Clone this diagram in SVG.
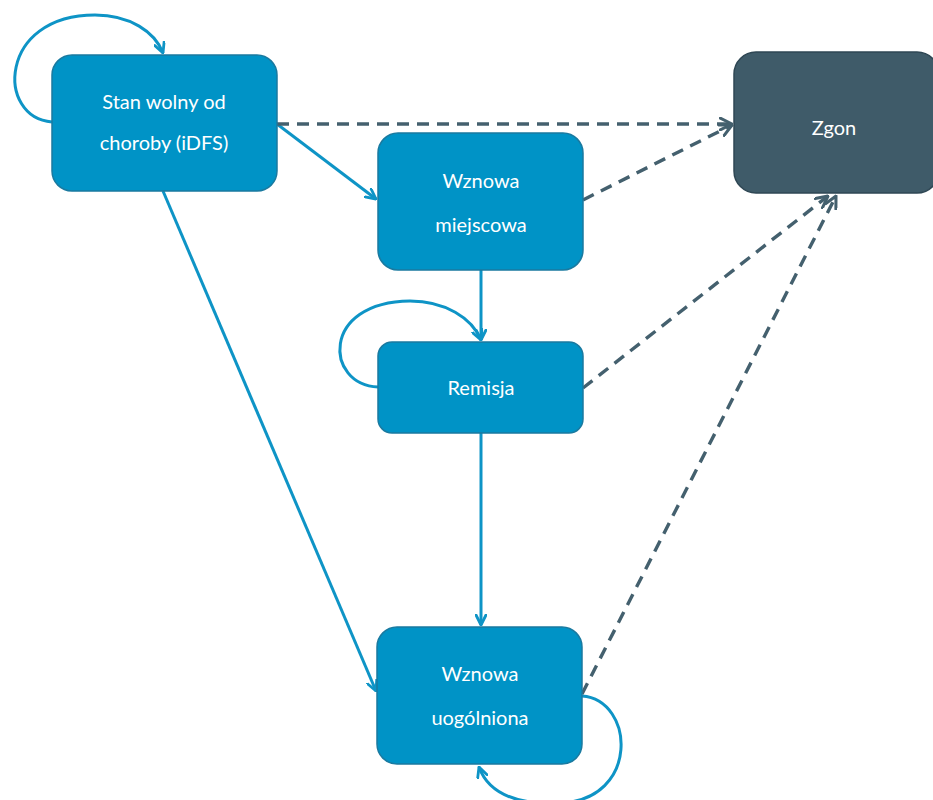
<svg xmlns="http://www.w3.org/2000/svg" width="933" height="800" viewBox="0 0 933 800">
  <defs>
    <marker id="arrBlue" viewBox="0 0 12 12" refX="11" refY="6" markerWidth="12" markerHeight="12" markerUnits="userSpaceOnUse" orient="auto">
      <path d="M1,1 L11,6 L1,11" fill="none" stroke="#0e94c6" stroke-width="2.8" stroke-linecap="round" stroke-linejoin="round"/>
    </marker>
    <marker id="arrGrey" viewBox="0 0 12 12" refX="11" refY="6" markerWidth="14" markerHeight="14" markerUnits="userSpaceOnUse" orient="auto">
      <path d="M1,1 L11,6 L1,11" fill="none" stroke="#44606e" stroke-width="2.6" stroke-linecap="round" stroke-linejoin="round"/>
    </marker>
    <style>
      .state { fill: #0093c6; stroke: #1a7aa0; stroke-width: 1.5; }
      .final { fill: #3f5b69; stroke: #2f4754; stroke-width: 1.5; }
      .label { font-family: Lato, "Open Sans", "Liberation Sans", sans-serif; font-size: 20px; fill: #ffffff; text-anchor: middle; dominant-baseline: central; }
      .solid { fill: none; stroke: #0e94c6; stroke-width: 3; marker-end: url(#arrBlue); }
      .dash { fill: none; stroke: #44606e; stroke-width: 3.4; stroke-dasharray: 12 8; marker-end: url(#arrGrey); }
    </style>
  </defs>

  <g id="connectors">
    <!-- self-loops -->
    <path class="solid" d="M52,122 C-4,118 -2,15 95,15 C130,15 155,32 163,53"/>
    <path class="solid" d="M378,387 C325,385 320,302 410,301 C445,301 472,318 481,340"/>
    <path class="solid" d="M582,696 C635,700 640,800 560,803 C515,805 488,792 479,767"/>
    <!-- solid transitions -->
    <path class="solid" d="M277,124 L376,199"/>
    <path class="solid" d="M163,191 L376,691"/>
    <path class="solid" d="M481,270 L481,340"/>
    <path class="solid" d="M481,433 L481,625"/>
    <!-- transitions to death -->
    <path class="dash" d="M277,124 L732,124"/>
    <path class="dash" d="M583,200 L732,125"/>
    <path class="dash" d="M583,388 L828,196"/>
    <path class="dash" d="M582,694 L836,196"/>
  </g>

  <g id="node-idfs">
    <rect class="state" x="52" y="55" width="225" height="136" rx="20"/>
    <text class="label" x="164" y="101">Stan wolny od</text>
    <text class="label" x="164" y="142">choroby (iDFS)</text>
  </g>

  <g id="node-local">
    <rect class="state" x="378" y="133" width="205" height="137" rx="20"/>
    <text class="label" x="481" y="180">Wznowa</text>
    <text class="label" x="481" y="224">miejscowa</text>
  </g>

  <g id="node-remission">
    <rect class="state" x="378" y="342" width="205" height="91" rx="14"/>
    <text class="label" x="481" y="387">Remisja</text>
  </g>

  <g id="node-general">
    <rect class="state" x="377" y="627" width="205" height="137" rx="20"/>
    <text class="label" x="480" y="673">Wznowa</text>
    <text class="label" x="480" y="717">uogólniona</text>
  </g>

  <g id="node-death">
    <rect class="final" x="734" y="52" width="205" height="141" rx="22"/>
    <text class="label" x="834" y="127">Zgon</text>
  </g>
</svg>
